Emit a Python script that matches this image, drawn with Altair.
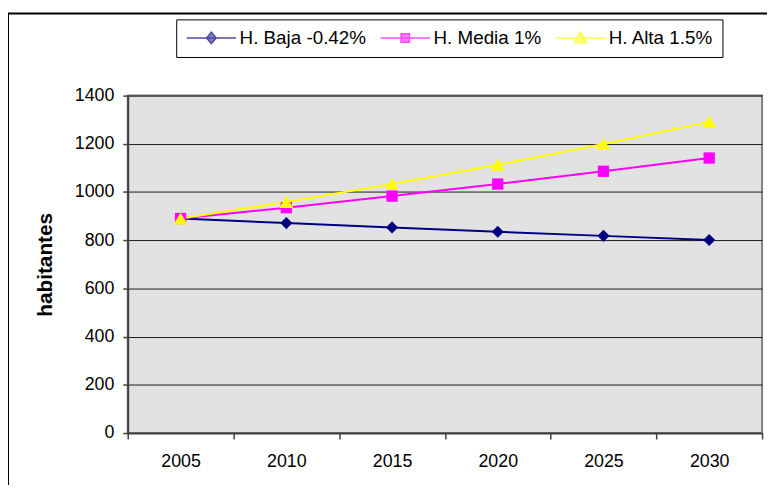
import altair as alt
import pandas as pd

years = ["2005", "2010", "2015", "2020", "2025", "2030"]
baja = [890, 871, 853, 835, 818, 801]
media = [890, 935, 983, 1033, 1086, 1141]
alta = [890, 959, 1033, 1113, 1199, 1291]
series = ["H. Baja -0.42%", "H. Media 1%", "H. Alta 1.5%"]
colors = ["#000080", "#FF00FF", "#FFFF00"]
shapes = ["diamond", "square", "triangle-up"]
sizes = [150, 130, 200]
y_ticks = [0, 200, 400, 600, 800, 1000, 1200, 1400]

# legend symbols: short line with the series marker (custom SVG paths, unit = 6px)
legend_paths = [
    "M-4.17,0H4.17M0,-0.95L0.8,0L0,0.95L-0.8,0Z",
    "M-4.17,0H4.17M-0.7,-0.7H0.7V0.7H-0.7Z",
    "M-4.17,0H4.17M0,-1L1,0.8L-1,0.8Z",
]

rows = []
for i, (name, vals) in enumerate(zip(series, [baja, media, alta])):
    for yr, v in zip(years, vals):
        rows.append({"year": yr, "value": v, "serie": name, "k": i})
df = pd.DataFrame(rows)

FONT = "Liberation Sans"

x_enc = alt.X(
    "year:O",
    scale=alt.Scale(type="band", paddingInner=0, paddingOuter=0),
    bandPosition=0.5,
    axis=alt.Axis(
        title=None, labelAngle=0, tickBand="extent", grid=False,
        domainColor="#404040", domainWidth=2, tickColor="#404040",
        tickWidth=1.5, tickSize=6, labelFontSize=18, labelPadding=14,
        labelColor="black", labelFont=FONT,
    ),
)
y_enc = alt.Y(
    "value:Q",
    scale=alt.Scale(domain=[0, 1400], nice=False),
    axis=alt.Axis(
        values=y_ticks, format="d", grid=True, gridColor="#1a1a1a", gridWidth=1,
        domainColor="#404040", domainWidth=2, tickColor="#404040",
        tickWidth=1.5, tickSize=5, labelFontSize=18, labelPadding=9,
        labelColor="black", labelFont=FONT,
        title="habitantes", titleFontSize=21, titleFontWeight="bold",
        titleFont=FONT, titleColor="black", titleAngle=-90,
        titleX=-83, titleY=170.5, titleAlign="center", titleBaseline="middle",
    ),
)

frame = alt.Chart(pd.DataFrame({"a": [0]})).mark_rect(
    fill="transparent", stroke="black", strokeWidth=2
).encode(
    x=alt.value(-121), x2=alt.value(700), y=alt.value(-83), y2=alt.value(460)
)

# lines and markers, one layer per series with constant styles (no legends)
line_layers = []
point_layers = []
for name, col, shp, sz in zip(series, colors, shapes, sizes):
    base = alt.Chart(df).transform_filter(alt.datum.serie == name)
    line_layers.append(
        base.mark_line(strokeWidth=2, color=col).encode(x=x_enc, y=y_enc)
    )
    point_layers.append(
        base.mark_point(filled=True, opacity=1, shape=shp, size=sz, color=col)
        .encode(x=x_enc, y=y_enc)
    )

leg = alt.Legend(
    orient="none", legendX=49, legendY=-77, direction="horizontal", title=None,
    strokeColor="black", fillColor="white", padding=9, symbolSize=144,
    symbolStrokeWidth=1.6, labelFontSize=19, labelFont=FONT, labelColor="black",
    symbolOffset=17, labelOffset=19, columnPadding=11, cornerRadius=0,
)

# legend-only layer: its marks sit far below the plot and are clipped away
legend_layer = alt.Chart(df).mark_point(filled=True, strokeWidth=1.6, clip=True).encode(
    x=x_enc,
    y=alt.datum(-3000),
    fill=alt.Fill("serie:N", scale=alt.Scale(domain=series, range=colors), legend=leg),
    stroke=alt.Stroke("serie:N", scale=alt.Scale(domain=series, range=colors), legend=leg),
    shape=alt.Shape("serie:N", scale=alt.Scale(domain=series, range=legend_paths), legend=leg),
)

chart = alt.layer(frame, *line_layers, *point_layers, legend_layer).properties(
    width=641, height=341,
    padding={"left": 121, "top": 86, "right": 5, "bottom": 50},
    autosize=alt.AutoSizeParams(type="none"),
    background="white",
).configure_view(
    fill="#e2e2e2", stroke="#808080", strokeWidth=2
)

chart.save("out.html", embed_options={"renderer": "svg", "actions": False})
